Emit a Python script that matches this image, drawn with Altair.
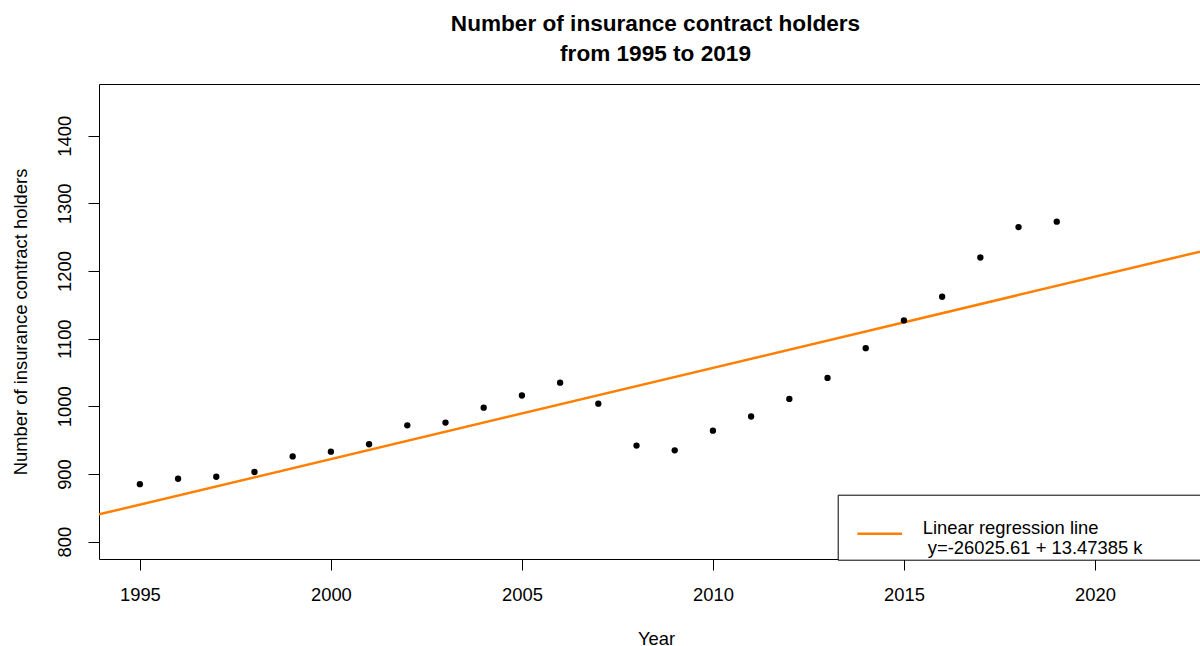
import altair as alt
import pandas as pd

# Yearly number of insurance contract holders
years = list(range(1995, 2020))
holders = [885, 893, 896, 903, 926, 933, 944, 972, 976, 998, 1016, 1035, 1004,
           942, 935, 964, 985, 1011, 1042, 1086, 1127, 1162, 1220, 1265, 1273]

# Fitted linear model: holders = intercept + slope * year
intercept = -26025.61
slope = 13.47385

x_domain = [1993.93, 2022.75]
y_domain = [774.4, 1476.4]
x_ticks = [1995, 2000, 2005, 2010, 2015, 2020]
y_ticks = [800, 900, 1000, 1100, 1200, 1300, 1400]

title_lines = ["Number of insurance contract holders", "from 1995 to 2019"]
x_title = "Year"
y_title = "Number of insurance contract holders"
legend_lines = ["Linear regression line", " y=-26025.61 + 13.47385 k"]

FONT = "Liberation Sans"
FS = 18.4

# Vega trims whitespace at the ends of each text line, so the legend lines are
# wrapped in zero-width spaces and use non-breaking spaces for the padding that
# keeps the legend frame running past the right edge of the plot.
ZW, NB = "\u200b", "\u00a0"
legend_text = "|".join(
    ZW + line.replace(" ", NB) + NB * 12 + ZW for line in legend_lines
)

points_df = pd.DataFrame({"year": years, "holders": holders})
fit_df = pd.DataFrame({
    "year": x_domain,
    "holders": [intercept + slope * x for x in x_domain],
    "series": [legend_text] * 2,
})

x_scale = alt.Scale(domain=x_domain, nice=False, zero=False)
y_scale = alt.Scale(domain=y_domain, nice=False, zero=False)

y_axis = alt.Axis(
    values=y_ticks, format="d", grid=False, title=y_title,
    domainColor="black", tickColor="black", tickSize=11,
    labelFont=FONT, labelFontSize=FS, labelColor="black",
    labelAngle=270, labelAlign="center", labelBaseline="alphabetic",
    labelPadding=18,
    titleFont=FONT, titleFontSize=FS, titleFontWeight="normal", titleColor="black",
    titleAngle=270, titleAlign="center", titleBaseline="alphabetic",
    titleX=-72.3, titleY=237.5,
)

fit = alt.Chart(fit_df).mark_line(strokeWidth=2.5, clip=True).encode(
    x=alt.X("year:Q", scale=x_scale,
            axis=alt.Axis(orient="top", labels=False, ticks=False, grid=False,
                          domain=True, domainColor="black", title=None)),
    y=alt.Y("holders:Q", scale=y_scale, axis=y_axis),
    color=alt.Color(
        "series:N",
        scale=alt.Scale(range=["#FF7F00"]),
        legend=alt.Legend(
            title=NB, titleFontSize=10, titlePadding=3,
            orient="none", legendX=738.7, legendY=410.7,
            strokeColor="black", fillColor="white", padding=2,
            symbolType="stroke", symbolSize=2000, symbolStrokeWidth=2.5,
            symbolOffset=16,
            labelFont=FONT, labelFontSize=FS, labelColor="black",
            labelBaseline="alphabetic",
            labelOffset=19, labelLimit=900,
            labelExpr="split(datum.label, '|')",
        ),
    ),
)

points = alt.Chart(points_df).mark_circle(size=40, color="black", opacity=1).encode(
    x=alt.X("year:Q", scale=x_scale,
            axis=alt.Axis(
                values=x_ticks, format="d", grid=False, title=x_title,
                domainColor="black", tickColor="black", tickSize=11,
                labelFont=FONT, labelFontSize=FS, labelColor="black",
                labelPadding=15,
                titleFont=FONT, titleFontSize=FS, titleFontWeight="normal",
                titleColor="black", titleAlign="center",
                titleBaseline="alphabetic", titleX=557, titleY=85.5,
            )),
    y=alt.Y("holders:Q", scale=y_scale, axis=y_axis),
)

chart = alt.layer(fit, points).resolve_axis(x="independent").properties(
    width=1101,
    height=475,
    padding={"left": 99, "top": 84, "right": 0, "bottom": 87},
    autosize=alt.AutoSizeParams(type="none"),
    background="white",
    title=alt.TitleParams(
        text=title_lines, font=FONT, fontSize=22.6, fontWeight="bold",
        color="black", anchor="middle", dx=6, dy=23, offset=18, lineHeight=30,
        baseline="bottom",
    ),
).configure_view(stroke=None)

chart.save("out.html", embed_options={"renderer": "svg", "actions": False})
